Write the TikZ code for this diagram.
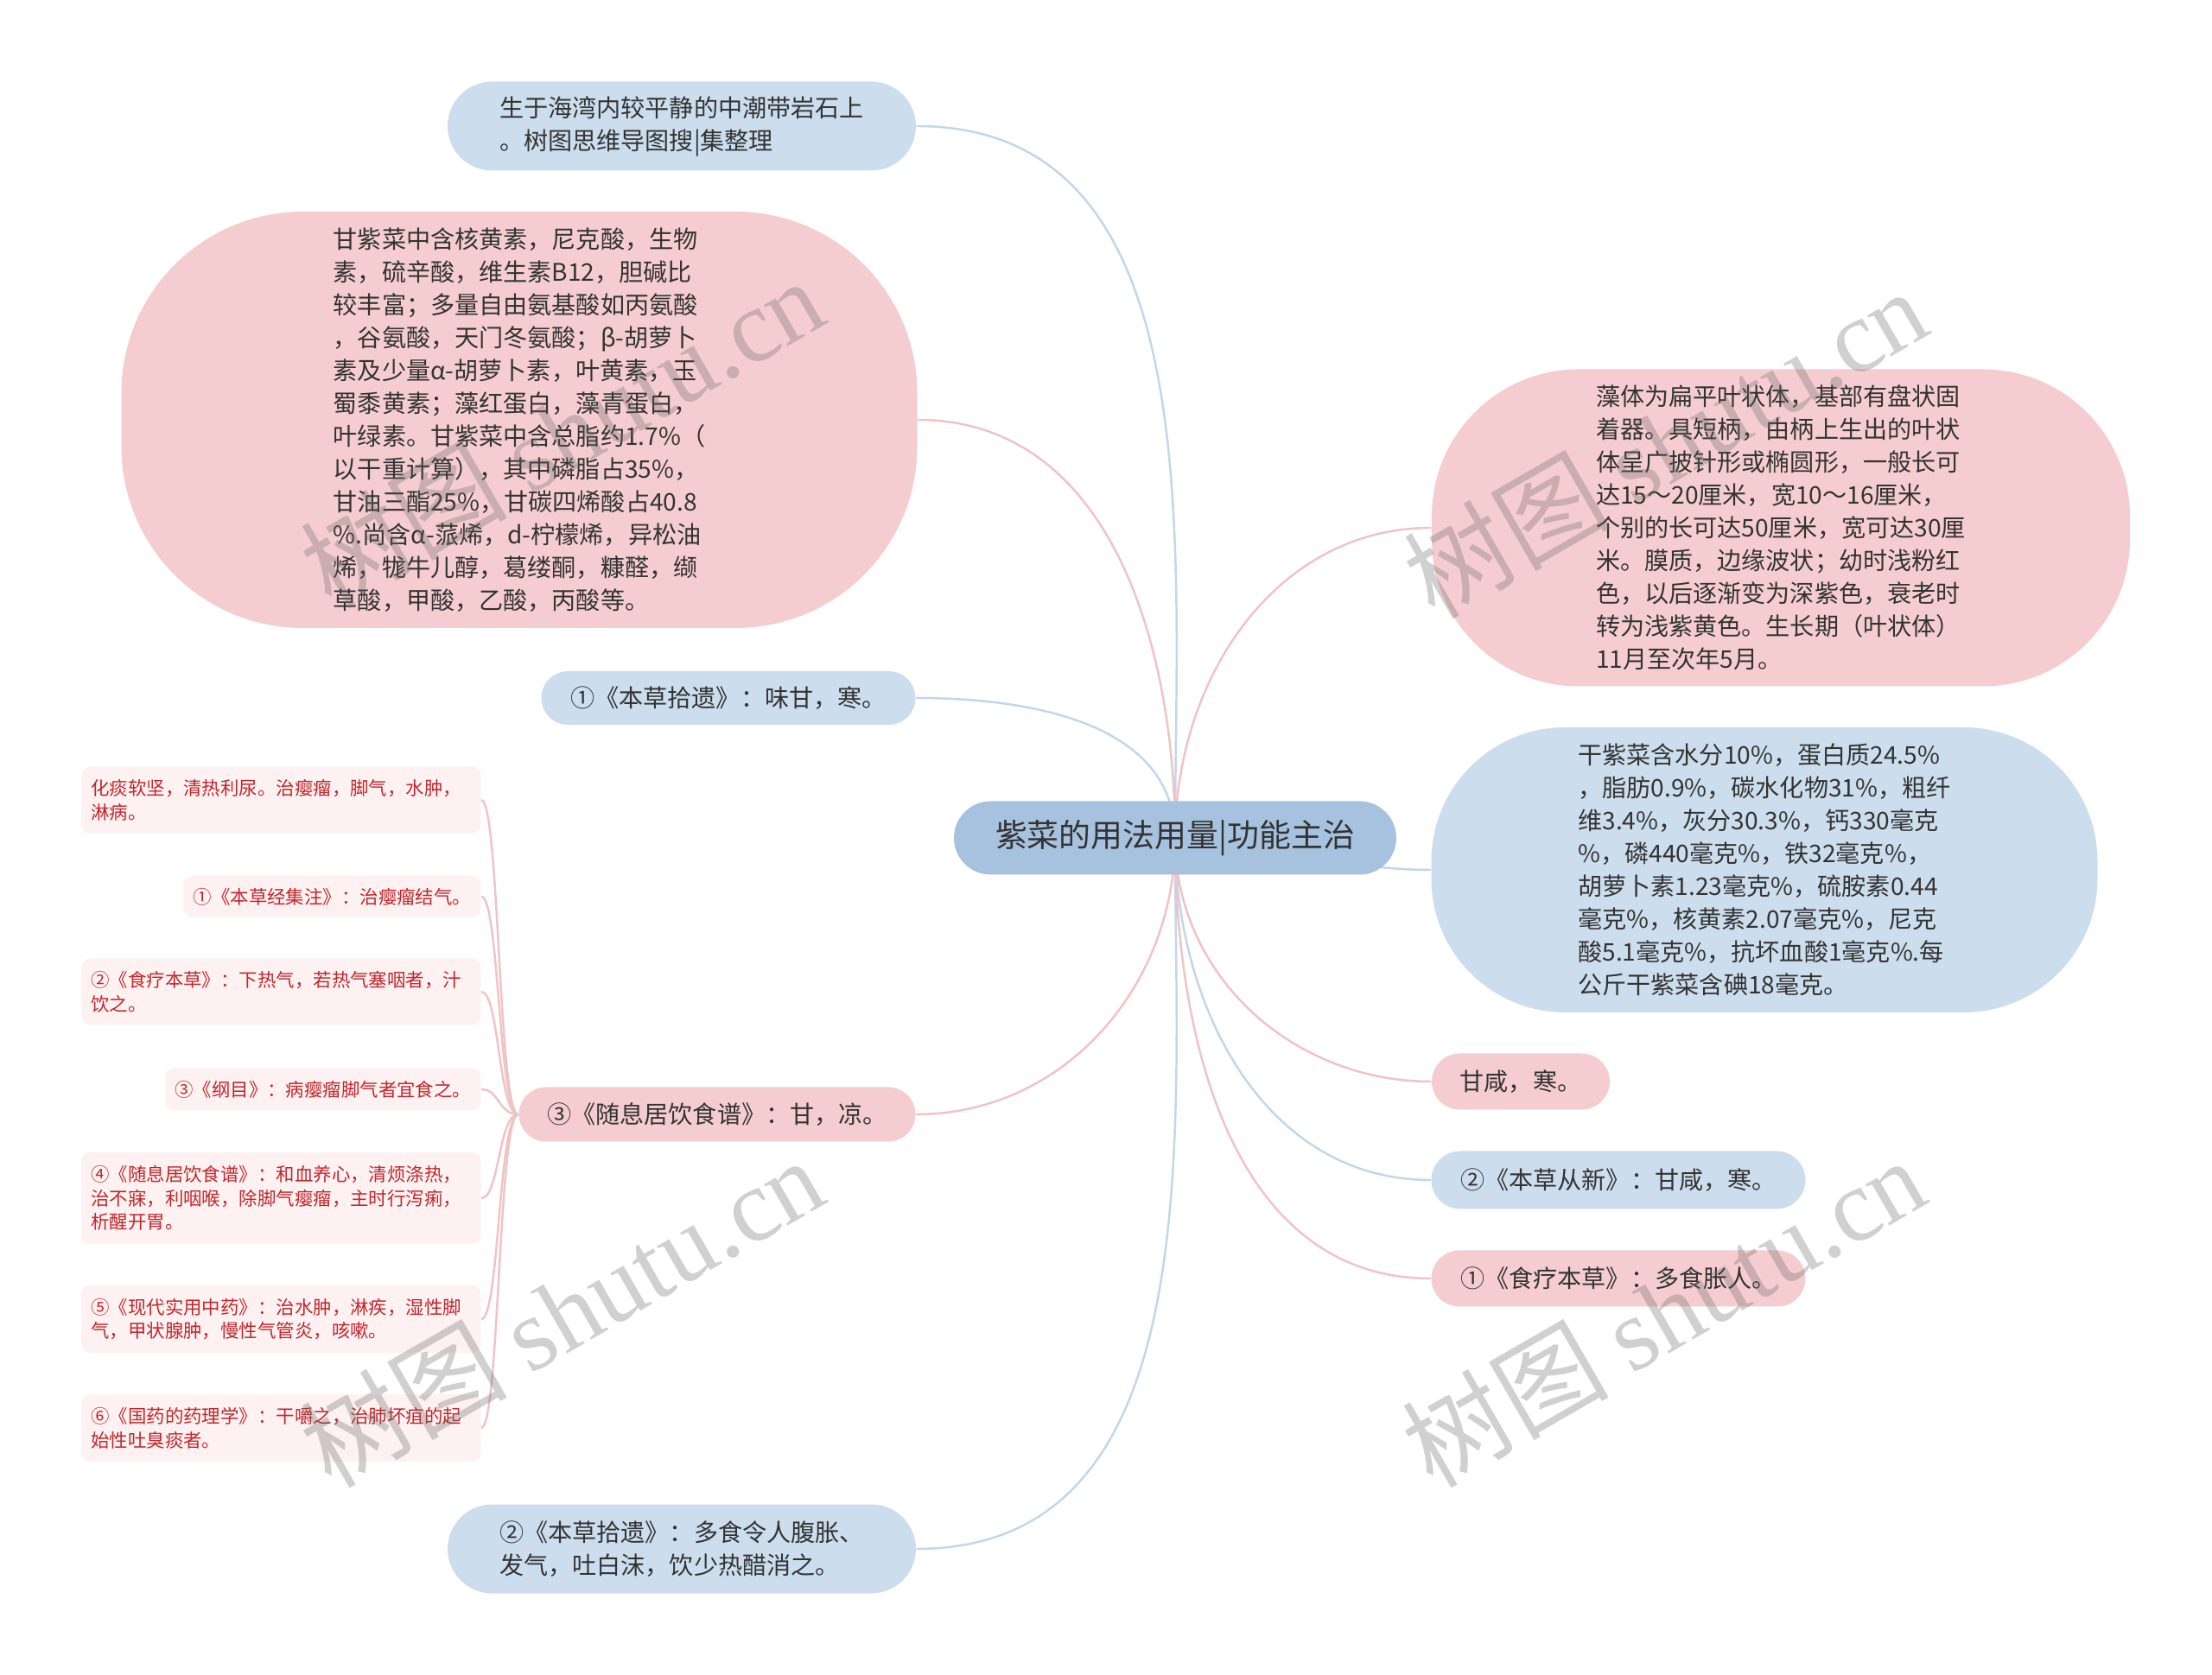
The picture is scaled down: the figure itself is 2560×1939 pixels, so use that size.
\documentclass[tikz,border=0pt]{standalone}
\usepackage{fontspec}
\setmainfont{Noto Sans CJK SC}
\newfontfamily\wmfont{Liberation Serif}
\usetikzlibrary{positioning, shapes.misc, backgrounds}

\definecolor{rootblue}{HTML}{A6C2DF}
\definecolor{nodeblue}{HTML}{CCDDEE}
\definecolor{nodepink}{HTML}{F5CDD0}
\definecolor{subpink}{HTML}{FDF1F1}
\definecolor{subred}{HTML}{C0272D}
\definecolor{textgray}{HTML}{333333}
\definecolor{lineblue}{HTML}{C3D6EA}
\definecolor{linepink}{HTML}{F0C3C5}

\begin{document}
\begin{tikzpicture}[
  x=0.1mm, y=-0.1mm,
  font=\fontsize{8}{10.8}\selectfont,
  pillbox/.style={rounded rectangle, align=left, text=textgray, inner sep=0pt},
  bluepill/.style={pillbox, fill=nodeblue},
  pinkpill/.style={pillbox, fill=nodepink},
  bigbox/.style={rectangle, align=left, text=textgray, inner sep=0pt},
  rootbox/.style={rounded rectangle, fill=rootblue, text=textgray, inner sep=0pt,
    font=\fontsize{10.5}{12}\selectfont, minimum width=51.2mm, minimum height=8.5mm},
  subbox/.style={rectangle, rounded corners=1mm, fill=subpink, text=subred, align=left,
    inner xsep=1.1mm, inner ysep=0pt, font=\fontsize{6.1}{7.9}\selectfont, anchor=east},
  bline/.style={draw=lineblue, line width=0.7pt},
  pline/.style={draw=linepink, line width=0.7pt},
  wmark/.style={rotate=30, text=black!60, text opacity=0.3, font=\fontsize{34}{34}\selectfont}
]

% centre
\node[rootbox] (root) at (1360,970) {紫菜的用法用量|功能主治};

% left branches
\node[bluepill, minimum width=54.2mm, minimum height=10.3mm] (n_top) at (789,146)
  {生于海湾内较平静的中潮带岩石上\\。树图思维导图搜|集整理};
\node[bigbox, fill=nodepink, rounded corners=21mm, minimum width=92.1mm, minimum height=48.2mm] (n_big) at (601,486)
  {甘紫菜中含核黄素，尼克酸，生物\\素，硫辛酸，维生素B12，胆碱比\\较丰富；多量自由氨基酸如丙氨酸\\，谷氨酸，天门冬氨酸；β-胡萝卜\\素及少量α-胡萝卜素，叶黄素，玉\\蜀黍黄素；藻红蛋白，藻青蛋白，\\叶绿素。甘紫菜中含总脂约1.7\%（\\以干重计算），其中磷脂占35\%，\\甘油三酯25\%，甘碳四烯酸占40.8\\\%.尚含α-蒎烯，d-柠檬烯，异松油\\烯，牻牛儿醇，葛缕酮，糠醛，缬\\草酸，甲酸，乙酸，丙酸等。};
\node[bluepill, minimum width=43.3mm, minimum height=6.2mm] (n_bcsy1) at (843,808)
  {①《本草拾遗》：味甘，寒。};
\node[pinkpill, minimum width=45.9mm, minimum height=6.3mm] (n_sxj) at (830,1290)
  {③《随息居饮食谱》：甘，凉。};
\node[bluepill, minimum width=54.2mm, minimum height=10.3mm] (n_bcsy2) at (789,1793)
  {②《本草拾遗》：多食令人腹胀、\\发气，吐白沫，饮少热醋消之。};

% details under 随息居饮食谱
\node[subbox, text width=44mm, minimum height=7.7mm] (s1) at (557,926)
  {化痰软坚，清热利尿。治瘿瘤，脚气，水肿，\\淋病。};
\node[subbox, minimum height=4.8mm] (s2) at (557,1038) {①《本草经集注》：治瘿瘤结气。};
\node[subbox, text width=44mm, minimum height=7.7mm] (s3) at (557,1148)
  {②《食疗本草》：下热气，若热气塞咽者，汁\\饮之。};
\node[subbox, minimum height=4.9mm] (s4) at (557,1261) {③《纲目》：病瘿瘤脚气者宜食之。};
\node[subbox, text width=44mm, minimum height=10.6mm] (s5) at (557,1387)
  {④《随息居饮食谱》：和血养心，清烦涤热，\\治不寐，利咽喉，除脚气瘿瘤，主时行泻痢，\\析醒开胃。};
\node[subbox, text width=44mm, minimum height=7.8mm] (s6) at (557,1527)
  {⑤《现代实用中药》：治水肿，淋疾，湿性脚\\气，甲状腺肿，慢性气管炎，咳嗽。};
\node[subbox, text width=44mm, minimum height=7.8mm] (s7) at (557,1653)
  {⑥《国药的药理学》：干嚼之，治肺坏疽的起\\始性吐臭痰者。};

% right branches
\node[bigbox, fill=nodepink, rounded corners=17mm, minimum width=80.8mm, minimum height=36.7mm] (n_rp) at (2061,611)
  {藻体为扁平叶状体，基部有盘状固\\着器。具短柄，由柄上生出的叶状\\体呈广披针形或椭圆形，一般长可\\达15～20厘米，宽10～16厘米，\\个别的长可达50厘米，宽可达30厘\\米。膜质，边缘波状；幼时浅粉红\\色，以后逐渐变为深紫色，衰老时\\转为浅紫黄色。生长期（叶状体）\\11月至次年5月。};
\node[bigbox, fill=nodeblue, rounded corners=15.5mm, minimum width=77.1mm, minimum height=33mm] (n_rb) at (2042,1007)
  {干紫菜含水分10\%，蛋白质24.5\%\\，脂肪0.9\%，碳水化物31\%，粗纤\\维3.4\%，灰分30.3\%，钙330毫克\\\%，磷440毫克\%，铁32毫克\%，\\胡萝卜素1.23毫克\%，硫胺素0.44\\毫克\%，核黄素2.07毫克\%，尼克\\酸5.1毫克\%，抗坏血酸1毫克\%.每\\公斤干紫菜含碘18毫克。};
\node[pinkpill, minimum width=20.6mm, minimum height=6.5mm] (n_gx) at (1760,1252) {甘咸，寒。};
\node[bluepill, minimum width=43.3mm, minimum height=6.7mm] (n_bccx) at (1873,1366)
  {②《本草从新》：甘咸，寒。};
\node[pinkpill, minimum width=43.3mm, minimum height=6.5mm] (n_sl) at (1873,1480)
  {①《食疗本草》：多食胀人。};

% connectors, behind the boxes
\begin{scope}[on background layer]
  \fill[white] (0,0) rectangle (2560,1939);
  \draw[bline] (root.center) to[out=90,in=0] (n_top.east);
  \draw[pline] (root.center) to[out=90,in=0] (n_big.east);
  \draw[bline] (root.center) to[out=90,in=0] (n_bcsy1.east);
  \draw[pline] (root.center) to[out=-90,in=0] (n_sxj.east);
  \draw[bline] (root.center) to[out=-90,in=0] (n_bcsy2.east);
  \draw[pline] (root.center) to[out=90,in=180] (n_rp.west);
  \draw[bline] (root.center) to[out=0,in=180] (n_rb.west);
  \draw[pline] (root.center) to[out=-90,in=180] (n_gx.west);
  \draw[bline] (root.center) to[out=-90,in=180] (n_bccx.west);
  \draw[pline] (root.center) to[out=-90,in=180] (n_sl.west);
  \foreach \s in {s1,s2,s3,s4,s5,s6,s7}
    \draw[pline] (n_sxj.west) .. controls +(-23,0) and +(21,0) .. (\s.east);
\end{scope}

% watermarks
\node[wmark] (wm1) at (650,500) {树图 {\wmfont shutu.cn}};
\node[wmark] (wm2) at (1927,512) {树图 {\wmfont shutu.cn}};
\node[wmark] (wm3) at (650,1518) {树图 {\wmfont shutu.cn}};
\node[wmark] (wm4) at (1925,1518) {树图 {\wmfont shutu.cn}};

\end{tikzpicture}
\end{document}
